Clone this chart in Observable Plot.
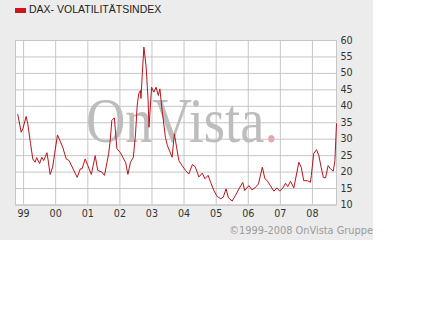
<!DOCTYPE html>
<html><head><meta charset="utf-8">
<script src="https://cdn.jsdelivr.net/npm/d3@7"></script>
<script src="https://cdn.jsdelivr.net/npm/@observablehq/plot@0.6"></script>
<style>
html,body{margin:0;padding:0;background:#fff;}
#box{position:relative;width:373px;height:240px;background:#ececec;overflow:hidden;}
#sw{position:absolute;left:15px;top:8px;width:11px;height:5px;background:#d0141c;}
#title{position:absolute;left:29px;top:3px;font-family:"Liberation Sans",Arial,sans-serif;font-size:10.5px;line-height:12px;color:#222;white-space:nowrap;}
#credit{position:absolute;right:0;top:225px;font-family:"DejaVu Sans",sans-serif;font-size:9.8px;line-height:11px;color:#9a9a9a;white-space:nowrap;}
#chart{position:absolute;left:0;top:0;}
</style></head><body>
<div id="box">
 <div id="sw"></div>
 <div id="title">DAX- VOLATILITÄTSINDEX</div>
 <div id="chart"></div>
 <div id="credit">©1999-2008 OnVista Gruppe</div>
</div>
<script>
const dates = [
"1998-10-27","1998-12-05","1998-12-24","1999-01-30","1999-02-17","1999-03-21","1999-04-16","1999-05-12","1999-05-30","1999-07-02",
"1999-07-27","1999-08-18","1999-09-24","1999-10-05","1999-10-30","1999-11-28","1999-12-20","2000-01-22","2000-03-21","2000-04-30",
"2000-06-02","2000-09-02","2000-10-08","2000-10-27","2000-12-02","2001-01-01","2001-02-10","2001-03-26","2001-04-24","2001-06-10",
"2001-07-10","2001-08-26","2001-09-13","2001-10-01","2001-10-30","2001-11-28","2002-01-04","2002-02-13","2002-03-07","2002-04-02",
"2002-05-01","2002-06-03","2002-06-28","2002-07-16","2002-08-03","2002-08-22","2002-08-29","2002-09-13","2002-10-01","2002-10-27",
"2002-11-18","2002-11-28","2002-12-28","2003-01-22","2003-02-17","2003-03-14","2003-04-01","2003-04-27","2003-06-03","2003-06-25",
"2003-08-18","2003-09-13","2003-10-08","2003-11-03","2003-12-09","2004-01-19","2004-02-24","2004-04-05","2004-05-05","2004-05-30",
"2004-06-17","2004-07-27","2004-08-25","2004-10-01","2004-10-30","2004-12-05","2005-01-12","2005-02-21","2005-03-22","2005-04-24",
"2005-05-20","2005-07-02","2005-08-08","2005-09-17","2005-10-30","2005-11-21","2006-01-08","2006-02-13","2006-03-26","2006-04-27",
"2006-06-10","2006-07-09","2006-08-04","2006-09-09","2006-10-19","2006-11-24","2006-12-24","2007-01-30","2007-02-28","2007-03-26",
"2007-04-27","2007-06-03","2007-07-31","2007-08-26","2007-09-24","2007-11-03","2007-12-09","2007-12-20","2008-01-15","2008-02-17",
"2008-03-14","2008-04-09","2008-05-05","2008-05-30","2008-06-28","2008-07-24","2008-08-25","2008-09-13","2008-10-01"
];
const values = [
37.5,32.1,33.2,36.9,34.8,28.7,24.0,23.0,24.4,22.6,
24.5,23.5,25.9,24.0,19.3,21.5,25.6,31.3,27.6,24.0,
23.5,18.4,21.0,21.0,24.0,22.0,19.3,25.0,20.5,20.0,
19.0,25.6,29.6,35.7,36.5,27.1,26.0,24.0,23.0,19.3,
23.0,24.5,31.6,40.0,43.8,44.8,42.4,49.9,58.0,51.9,
41.8,33.6,45.8,44.3,45.8,43.3,45.3,38.7,30.6,28.1,
24.5,31.6,27.6,23.5,22.0,20.5,19.4,22.3,21.7,20.0,
18.5,19.7,18.0,19.0,16.9,14.4,12.6,11.9,12.4,14.9,
12.2,11.2,12.9,14.9,16.9,14.4,15.9,14.6,15.4,16.4,
21.5,18.0,17.4,15.9,14.2,15.2,14.2,15.2,16.6,15.6,
17.2,15.2,23.0,21.5,17.4,17.4,16.9,19.0,25.6,26.8,
25.0,21.5,18.3,18.3,22.0,21.0,20.3,23.5,34.7
];
const yTicks = [10,15,20,25,30,35,40,45,50,55,60];
const yearTicks = ["1999-01-01","2000-01-01","2001-01-01","2002-01-01","2003-01-01","2004-01-01","2005-01-01","2006-01-01","2007-01-01","2008-01-01"];
const xDomain = ["1998-10-01","2008-10-01"];
const yDomain = [10,60];
const watermark = ["OnVista", "."];

const data = dates.map((d,i)=>({date:new Date(d), value:values[i]}));
const yearDates = yearTicks.map(d=>new Date(d));
const gridColor = "#c6c6c6";

const chart = Plot.plot({
  width:373, height:240,
  marginLeft:15, marginRight:37, marginTop:40, marginBottom:35.5,
  style:{background:"transparent", fontFamily:"DejaVu Sans, sans-serif", fontSize:"9.6px", color:"#333", overflow:"visible"},
  x:{type:"utc", domain:xDomain.map(d=>new Date(d)), label:null},
  y:{domain:yDomain, label:null},
  marks:[
    Plot.frame({fill:"white", stroke:"none"}),
    Plot.gridX(yearDates, {stroke:gridColor, strokeOpacity:1}),
    Plot.gridY(yTicks, {stroke:gridColor, strokeOpacity:1}),
    Plot.frame({stroke:gridColor}),
    Plot.line(data, {x:"date", y:"value", stroke:"#b8141c", strokeWidth:1}),
    Plot.axisX(yearDates, {tickSize:0, tickPadding:5, tickFormat:d3.utcFormat("%y"), fill:"#333"}),
    Plot.axisY(yTicks, {anchor:"right", tickSize:0, tickPadding:4, fill:"#333"})
  ]
});
document.getElementById("chart").appendChild(chart);

// watermark behind the line
const svg = d3.select(chart);
const wm = svg.insert("text", "g[aria-label='line']")
  .attr("x", 86).attr("y", 142)
  .attr("text-anchor", "start")
  .attr("textLength", 192).attr("lengthAdjust", "spacingAndGlyphs")
  .attr("font-family", "Liberation Serif, DejaVu Serif, serif")
  .attr("font-size", 64)
  .attr("fill", "#bdbdbd");
wm.append("tspan").text(watermark[0]);
wm.append("tspan").attr("fill", "#e6aaaa").text(watermark[1]);
</script>
</body></html>
